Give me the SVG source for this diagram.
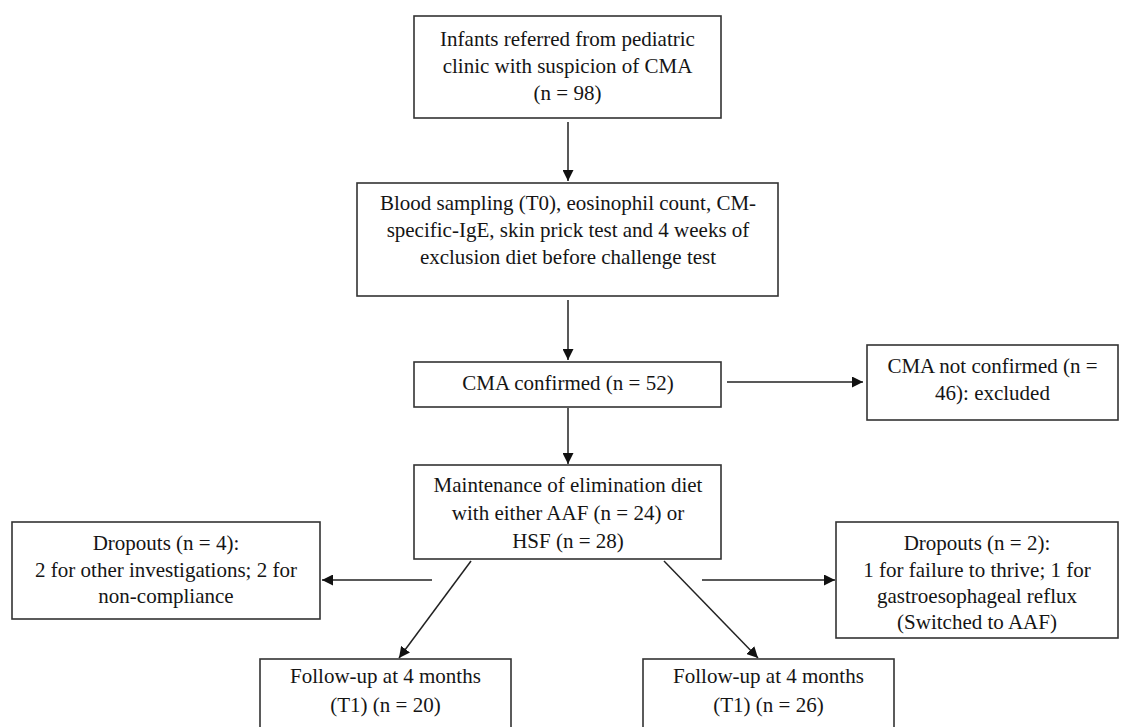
<svg xmlns="http://www.w3.org/2000/svg" width="1131" height="727" viewBox="0 0 1131 727">
<defs>
<marker id="ah" viewBox="0 0 10 10" refX="10" refY="5" markerWidth="11" markerHeight="11" markerUnits="userSpaceOnUse" orient="auto">
<path d="M0,0 L10,5 L0,10 z" fill="#111"/>
</marker>
<style>
.box{fill:#fff;stroke:#333;stroke-width:1.6}
.t{font-family:"Liberation Serif","Times New Roman","DejaVu Serif",serif;font-size:21px;fill:#151515;text-anchor:middle}
.c{stroke:#222;stroke-width:1.5;fill:none;marker-end:url(#ah)}
</style>
</defs>
<rect width="1131" height="727" fill="#fff"/>
<g id="connectors">
<line class="c" x1="568" y1="122" x2="568" y2="181"/>
<line class="c" x1="568" y1="300" x2="568" y2="360"/>
<line class="c" x1="727" y1="382" x2="863" y2="382"/>
<line class="c" x1="568" y1="408" x2="568" y2="464"/>
<line class="c" x1="432" y1="580" x2="322" y2="580"/>
<line class="c" x1="471" y1="561" x2="399" y2="658"/>
<line class="c" x1="702" y1="580" x2="835" y2="580"/>
<line class="c" x1="664" y1="561" x2="758" y2="658"/>
</g>
<g id="n1">
<rect class="box" x="414" y="16" width="307" height="102"/>
<text class="t" x="567.5" y="46">Infants referred from pediatric</text>
<text class="t" x="567.5" y="73">clinic with suspicion of CMA</text>
<text class="t" x="567.5" y="100">(n = 98)</text>
</g>
<g id="n2">
<rect class="box" x="357" y="183" width="421" height="113"/>
<text class="t" x="568" y="210">Blood sampling (T0), eosinophil count, CM-</text>
<text class="t" x="568" y="237">specific-IgE, skin prick test and 4 weeks of</text>
<text class="t" x="568" y="264">exclusion diet before challenge test</text>
</g>
<g id="n3">
<rect class="box" x="414" y="362" width="307" height="45"/>
<text class="t" x="568" y="390">CMA confirmed (n = 52)</text>
</g>
<g id="n4">
<rect class="box" x="867" y="345" width="251" height="75"/>
<text class="t" x="992.5" y="373">CMA not confirmed (n =</text>
<text class="t" x="992.5" y="400">46): excluded</text>
</g>
<g id="n5">
<rect class="box" x="414" y="465" width="307" height="94"/>
<text class="t" x="568" y="492">Maintenance of elimination diet</text>
<text class="t" x="568" y="520">with either AAF (n = 24) or</text>
<text class="t" x="568" y="548">HSF (n = 28)</text>
</g>
<g id="n6">
<rect class="box" x="12" y="522" width="308" height="97"/>
<text class="t" x="166" y="550">Dropouts (n = 4):</text>
<text class="t" x="166" y="577">2 for other investigations; 2 for</text>
<text class="t" x="166" y="603">non-compliance</text>
</g>
<g id="n7">
<rect class="box" x="836" y="522" width="282" height="116"/>
<text class="t" x="977" y="550">Dropouts (n = 2):</text>
<text class="t" x="977" y="577">1 for failure to thrive; 1 for</text>
<text class="t" x="977" y="603">gastroesophageal reflux</text>
<text class="t" x="977" y="629">(Switched to AAF)</text>
</g>
<g id="n8">
<rect class="box" x="260" y="659" width="251" height="75"/>
<text class="t" x="385.5" y="683">Follow-up at 4 months</text>
<text class="t" x="385.5" y="712">(T1) (n = 20)</text>
</g>
<g id="n9">
<rect class="box" x="643" y="659" width="251" height="75"/>
<text class="t" x="768.5" y="683">Follow-up at 4 months</text>
<text class="t" x="768.5" y="712">(T1) (n = 26)</text>
</g>
</svg>
